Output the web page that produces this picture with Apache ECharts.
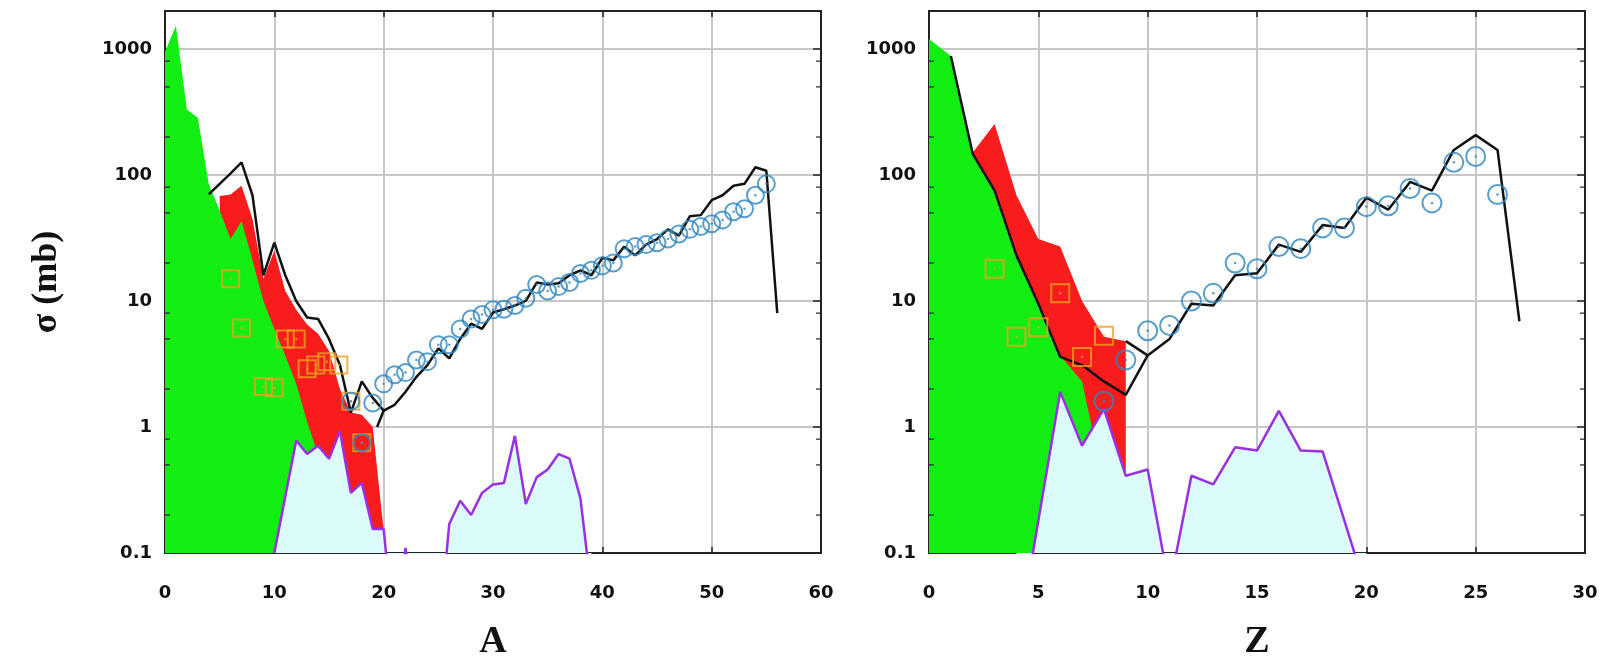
<!DOCTYPE html>
<html>
<head>
<meta charset="utf-8">
<script src="https://cdn.jsdelivr.net/npm/echarts@6/dist/echarts.min.js"></script>
<style>html,body{margin:0;padding:0;background:#fff}#c{width:1610px;height:656px}</style>
</head>
<body>
<div id="c"></div>
<script>
// ---------- Left panel: sigma vs A ----------
const greenA  = [0, 1, 2, 3, 4, 5, 6, 7, 8, 9, 10, 11, 12, 13, 14, 15, 16, 17, 18];
const greenAV = [950, 1530, 330, 285, 85, 52, 31, 43, 21, 10, 6.0, 3.7, 2.2, 1.1, 0.6, 0.35, 0.2, 0.1, 0.04];
const redA    = [5, 6, 7, 8, 9, 10, 11, 12, 13, 14, 15, 16, 17, 18, 19, 20];
const redAV   = [68, 70, 82, 45, 15, 25, 12, 8.5, 6.5, 5.5, 4.0, 2.0, 1.3, 1.25, 1.0, 0.15];
const cyanA   = [10, 11, 12, 13, 14, 15, 16, 17, 18, 19, 20, 21, 22, 23, 24, 25, 26, 27, 28, 29, 30, 31, 32, 33, 34, 35, 36, 37, 38, 39];
const cyanAV  = [0.1, 0.28, 0.78, 0.61, 0.71, 0.56, 0.93, 0.3, 0.36, 0.155, 0.155, 0.02, 0.11, 0.02, 0.01, 0.02, 0.17, 0.26, 0.2, 0.3, 0.35, 0.36, 0.85, 0.245, 0.4, 0.46, 0.61, 0.56, 0.27, 0.05];
const blackA  = [4, 5, 6, 7, 8, 9, 10, 11, 12, 13, 14, 15, 16, 17, 18, 19, 20, 21, 22, 23, 24, 25, 26, 27, 28, 29, 30, 31, 32, 33, 34, 35, 36, 37, 38, 39, 40, 41, 42, 43, 44, 45, 46, 47, 48, 49, 50, 51, 52, 53, 54, 55, 56];
const blackAV = [70, 85, 103, 126, 69, 16, 29, 16, 10, 7.4, 7.2, 5.0, 3.1, 1.3, 2.3, 1.7, 1.35, 1.5, 1.9, 2.5, 3.1, 4.2, 3.5, 5.0, 6.6, 6.0, 8.1, 8.6, 9.2, 10, 14, 13.5, 13.8, 16, 17.5, 16, 22, 21, 27, 23, 28, 31, 37, 33, 47, 48, 63, 69, 82, 85, 115, 108, 8];
const spurA   = [19.4, 20];
const spurAV  = [1.0, 1.35];
const circA   = [17, 18, 19, 20, 21, 22, 23, 24, 25, 26, 27, 28, 29, 30, 31, 32, 33, 34, 35, 36, 37, 38, 39, 40, 41, 42, 43, 44, 45, 46, 47, 48, 49, 50, 51, 52, 53, 54, 55];
const circAV  = [1.6, 0.75, 1.55, 2.2, 2.6, 2.7, 3.4, 3.3, 4.5, 4.5, 6.0, 7.2, 7.8, 8.5, 8.6, 9.2, 10.5, 13.5, 12, 13, 14, 16.5, 17.5, 19, 20, 26, 27, 28, 29, 31, 34, 37, 39, 41, 44, 51, 54, 69, 85];
const sqA     = [6, 7, 9, 10, 11, 12, 13, 13.8, 14.8, 15.9, 17, 18];
const sqAV    = [15, 6.1, 2.1, 2.05, 5.0, 5.0, 2.9, 3.1, 3.3, 3.1, 1.6, 0.75];

// ---------- Right panel: sigma vs Z ----------
const greenZ  = [0, 1, 2, 3, 4, 5, 6, 7, 8, 9];
const greenZV = [1200, 880, 147, 75, 23, 9.5, 3.7, 2.3, 0.35, 0.05];
const redZ    = [2, 3, 4, 5, 6, 7, 8, 9];
const redZV   = [151, 254, 69, 31, 27, 10, 5.2, 4.8];
const cyanZ   = [4, 5, 6, 7, 8, 9, 10, 11, 12, 13, 14, 15, 16, 17, 18, 19, 20];
const cyanZV  = [0.017, 0.18, 1.9, 0.71, 1.39, 0.41, 0.46, 0.053, 0.41, 0.35, 0.69, 0.65, 1.34, 0.65, 0.64, 0.18, 0.05];
const blackZ  = [1, 2, 3, 4, 5, 6, 7, 8, 9, 10, 11, 12, 13, 14, 15, 16, 17, 18, 19, 20, 21, 22, 23, 24, 25, 26, 27];
const blackZV = [880, 147, 75, 23, 9.5, 3.6, 3.1, 2.3, 1.8, 3.7, 5.0, 9.5, 9.2, 16, 16.6, 28, 24.5, 40, 38, 66, 53, 88, 75, 158, 207, 158, 6.9];
const spurZ   = [9, 10];
const spurZV  = [4.8, 3.7];
const circZ   = [8, 9, 10, 11, 12, 13, 14, 15, 16, 17, 18, 19, 20, 21, 22, 23, 24, 25, 26];
const circZV  = [1.6, 3.4, 5.8, 6.4, 10, 11.5, 20, 18, 27, 26, 38, 38, 56, 57, 78, 60, 126, 140, 70];
const sqZ     = [3, 4, 5, 6, 7, 8];
const sqZV    = [18, 5.2, 6.2, 11.5, 3.6, 5.3];

// ---------- Axes ----------
const yMin = 0.1, yMax = 2000;
const xMaxA = 60, xStepA = 10, xMaxZ = 30, xStepZ = 5;
const minorTickVals = [0.2, 0.5, 0.8, 2, 5, 8, 20, 50, 80, 200, 500, 800];
const yTitle = 'σ (mb)';
const xTitles = ['A', 'Z'];

const C = {
  green: '#12ee12', red: '#f81c1c', cyan: '#dcfbfb', purple: '#9b2fe4',
  black: '#111111', blue: '#2e86c1', orange: '#eea020', grid: '#c6c6c6'
};
const labelFont = {fontFamily: 'DejaVu Sans', fontWeight: 'bold', fontSize: 18, color: '#111'};
const titleFont = {fontFamily: 'Liberation Serif', fontWeight: 'bold', fontSize: 38, color: '#111'};
const yTitleFont = {fontFamily: 'Liberation Serif', fontWeight: 'bold', fontSize: 36, color: '#111'};

function pts(xs, ys) { return xs.map((x, i) => [x, ys[i]]); }
function fmtLog(v) {
  const e = Math.log10(v), r = Math.round(e);
  if (Math.abs(e - r) > 1e-6 || r > 3) return '';
  return r < 0 ? '0.1' : String(Math.round(v));
}

const grids = [
  {left: 165, top: 11, width: 656, height: 542, outerBoundsMode: 'none', containLabel: false},
  {left: 929, top: 11, width: 656, height: 542, outerBoundsMode: 'none', containLabel: false}
];
const xMaxs = [xMaxA, xMaxZ], xSteps = [xStepA, xStepZ];

const xAxis = [], yAxis = [];
[0, 1].forEach(g => {
  xAxis.push({
    gridIndex: g, type: 'value', min: 0, max: xMaxs[g], interval: xSteps[g],
    name: xTitles[g], nameLocation: 'middle', nameGap: 70, nameTextStyle: titleFont,
    axisLine: {show: true, onZero: false, lineStyle: {color: '#222', width: 2}},
    axisTick: {show: true, inside: true, length: 6, lineStyle: {color: '#222', width: 1.5}},
    axisLabel: Object.assign({margin: 31, showMinLabel: true, showMaxLabel: true}, labelFont),
    splitLine: {show: true, lineStyle: {color: C.grid, width: 2}}
  });
});
[0, 1].forEach(g => {
  xAxis.push({
    gridIndex: g, type: 'value', min: 0, max: xMaxs[g], interval: xSteps[g], position: 'top',
    axisLine: {show: true, onZero: false, lineStyle: {color: '#222', width: 2}},
    axisTick: {show: true, inside: true, length: 6, lineStyle: {color: '#222', width: 1.5}},
    axisLabel: {show: false}, splitLine: {show: false}
  });
});
[0, 1].forEach(g => {
  yAxis.push({
    gridIndex: g, type: 'log', logBase: 10, min: yMin, max: yMax,
    name: g === 0 ? yTitle : '', nameLocation: 'middle', nameGap: 100, nameTextStyle: yTitleFont,
    axisLine: {show: true, onZero: false, lineStyle: {color: '#222', width: 2}},
    axisTick: {show: true, inside: true, length: 8, lineStyle: {color: '#222', width: 1.5}},
    axisLabel: Object.assign({margin: 13, formatter: fmtLog, showMaxLabel: false}, labelFont),
    splitLine: {show: true, lineStyle: {color: C.grid, width: 2}}
  });
});
[0, 1].forEach(g => {
  yAxis.push({
    gridIndex: g, type: 'log', logBase: 10, min: yMin, max: yMax, position: 'right',
    axisLine: {show: true, onZero: false, lineStyle: {color: '#222', width: 2}},
    axisTick: {show: true, inside: true, length: 8, lineStyle: {color: '#222', width: 1.5}},
    axisLabel: {show: false}, splitLine: {show: false}
  });
});

function area(g, data, color, z, line) {
  return {
    type: 'line', xAxisIndex: g, yAxisIndex: g, data: data, symbol: 'none', showSymbol: false,
    silent: true, z: z, clip: true,
    lineStyle: line ? {color: line, width: 2.5} : {width: 0, opacity: 0},
    areaStyle: {color: color, opacity: 1, origin: 'start'}
  };
}
function lineS(g, data, z) {
  return {
    type: 'line', xAxisIndex: g, yAxisIndex: g, data: data, symbol: 'none', showSymbol: false,
    silent: true, z: z, clip: true, lineStyle: {color: C.black, width: 2.5}
  };
}
function markers(g, data, sym, size, col, z) {
  return [{
    type: 'scatter', xAxisIndex: g, yAxisIndex: g, data: data, symbol: sym, symbolSize: size,
    silent: true, z: z,
    itemStyle: {color: 'rgba(0,0,0,0)', borderColor: col, borderWidth: 2}
  }, {
    type: 'scatter', xAxisIndex: g, yAxisIndex: g, data: data, symbol: 'circle', symbolSize: 2.5,
    silent: true, z: z, itemStyle: {color: col}
  }];
}
function minorTicks(g) {
  const left = minorTickVals.map(v => [0, v]);
  const right = minorTickVals.map(v => [xMaxs[g], v]);
  const base = {type: 'scatter', xAxisIndex: g, yAxisIndex: g, symbol: 'rect', symbolSize: [5, 1.5],
    silent: true, z: 10, clip: false, itemStyle: {color: '#222'}};
  return [Object.assign({}, base, {data: left, symbolOffset: [2.5, 0]}),
          Object.assign({}, base, {data: right, symbolOffset: [-2.5, 0]})];
}

const series = [
  area(0, pts(redA, redAV), C.red, 2),
  area(0, pts(greenA, greenAV), C.green, 3),
  area(0, pts(cyanA, cyanAV), C.cyan, 4, C.purple),
  lineS(0, pts(blackA, blackAV), 5),
  lineS(0, pts(spurA, spurAV), 5),
  ...markers(0, pts(sqA, sqAV), 'rect', 17, C.orange, 6),
  ...markers(0, pts(circA, circAV), 'circle', 17, C.blue, 7),
  ...minorTicks(0),

  area(1, pts(redZ, redZV), C.red, 2),
  area(1, pts(greenZ, greenZV), C.green, 3),
  area(1, pts(cyanZ, cyanZV), C.cyan, 4, C.purple),
  lineS(1, pts(blackZ, blackZV), 5),
  lineS(1, pts(spurZ, spurZV), 5),
  ...markers(1, pts(sqZ, sqZV), 'rect', 18, C.orange, 6),
  ...markers(1, pts(circZ, circZV), 'circle', 19, C.blue, 7),
  ...minorTicks(1)
];

const chart = echarts.init(document.getElementById('c'), null, {renderer: 'canvas'});
chart.setOption({
  animation: false,
  backgroundColor: '#ffffff',
  grid: grids,
  xAxis: xAxis,
  yAxis: yAxis,
  series: series
});
</script>
</body>
</html>
